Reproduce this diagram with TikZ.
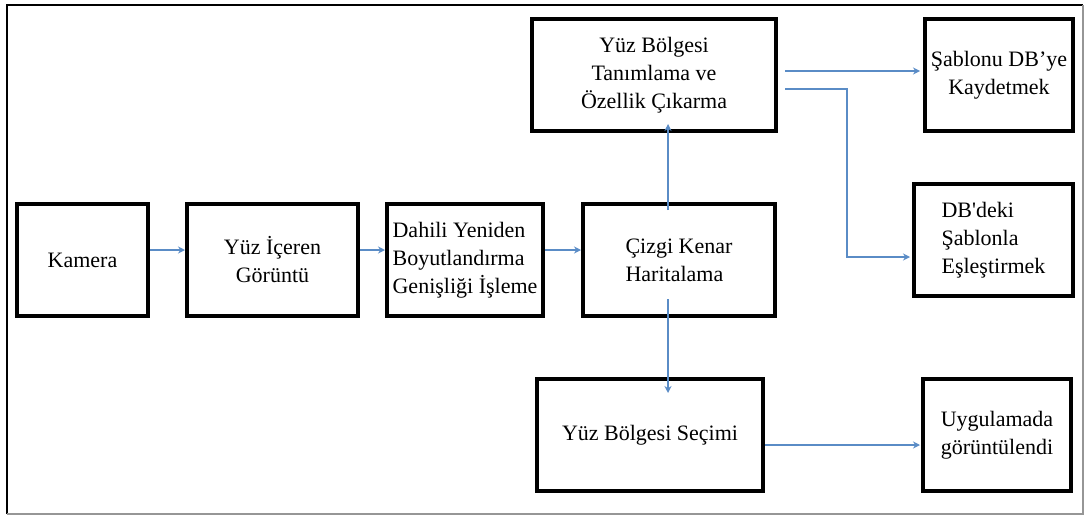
\documentclass[tikz,border=0pt]{standalone}
\usepackage{fontspec}
\setmainfont{Liberation Serif}
\newfontfamily\straightfont[Ligatures=ResetAll]{Liberation Serif}
\usetikzlibrary{arrows.meta}
\definecolor{arrblue}{RGB}{90,140,198}
\definecolor{framegray}{RGB}{150,150,150}
\tikzset{
  blk/.style={draw=black, line width=4pt, minimum height=112pt, inner sep=0pt,
    align=center, font=\fontsize{22}{28}\selectfont},
  blkl/.style={blk, align=left},
  arr/.style={draw=arrblue, line width=1.6pt, -{Stealth[length=7pt,width=7pt]}}
}
\begin{document}
\begin{tikzpicture}[x=1pt,y=-1pt]
\useasboundingbox (0,0) rectangle (1089,517);
% outer frame
\draw[line width=2pt, black] (7,514) -- (7,5) -- (1083,5);
\draw[line width=2pt, framegray] (1083,5) -- (1083,514) -- (7,514);
% boxes
\node[blk, minimum width=131pt] (kam) at (82.5,260) {Kamera};
\node[blk, minimum width=171pt] (yic) at (272.5,260) {Yüz İçeren\\Görüntü};
\node[blkl, minimum width=156pt] (dah) at (465,260) {Dahili Yeniden\\Boyutlandırma\\Genişliği İşleme};
\node[blkl, minimum width=192pt] (ciz) at (679,260) {Çizgi Kenar\\Haritalama};
\node[blk, minimum width=244pt] (tan) at (654,75) {Yüz Bölgesi\\Tanımlama ve\\Özellik Çıkarma};
\node[blk, minimum width=148pt] (sab) at (999,75) {Şablonu DB’ye\\Kaydetmek};
\node[blkl, minimum width=159pt] (dbd) at (993.5,240) {DB{\straightfont '}deki\\Şablonla\\Eşleştirmek};
\node[blk, minimum width=226pt] (sec) at (650,435) {Yüz Bölgesi Seçimi};
\node[blkl, minimum width=148pt] (uyg) at (997,435) {Uygulamada\\görüntülendi};
% connectors
\draw[arr] ([yshift=10pt]kam.east) -- ([yshift=10pt]yic.west);
\draw[arr] ([yshift=10pt]yic.east) -- ([yshift=10pt]dah.west);
\draw[arr] ([yshift=10pt]dah.east) -- ([yshift=10pt]ciz.west);
\draw[arr] ([xshift=-11pt,yshift=-8pt]ciz.north) -- ([xshift=14pt,yshift=9pt]tan.south);
\draw[arr] ([xshift=-11pt,yshift=19pt]ciz.south) -- ([xshift=18pt,yshift=-16pt]sec.north);
\draw[arr] ([xshift=7pt,yshift=4pt]tan.east) -- ([xshift=-3pt,yshift=4pt]sab.west);
\draw[arr] ([xshift=7pt,yshift=-14pt]tan.east) -- ++(62,0) |- ([xshift=-2pt,yshift=-17pt]dbd.west);
\draw[arr] ([yshift=-10pt]sec.east) -- ([xshift=-1pt,yshift=-10pt]uyg.west);
\end{tikzpicture}
\end{document}
